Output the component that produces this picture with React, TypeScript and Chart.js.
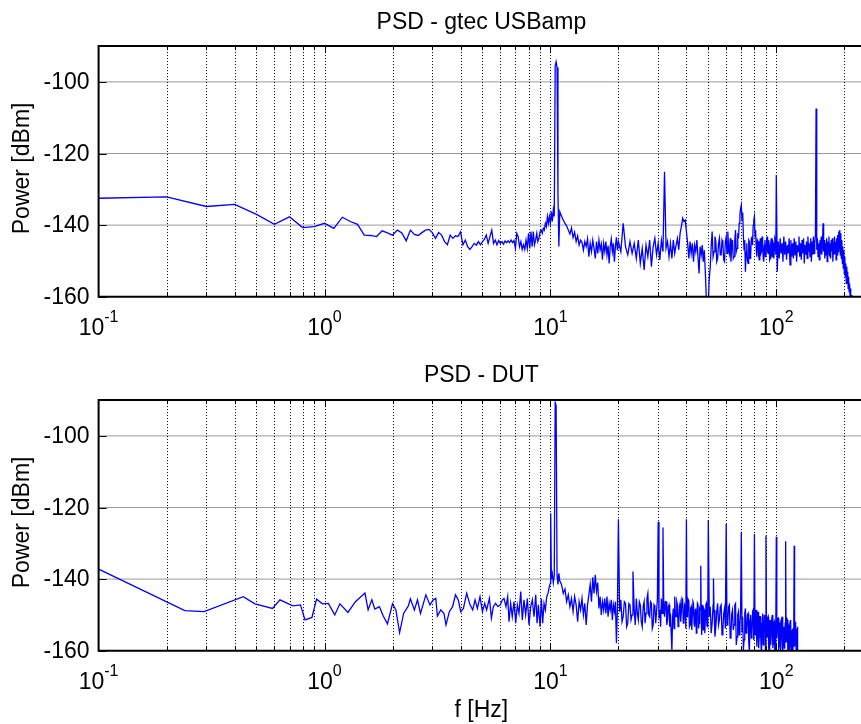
import React, { useEffect, useRef } from 'react';
import { Chart, registerables } from 'chart.js';

Chart.register(...registerables);

type Pt = [number, number]; // [frequency Hz, power dBm]

// ---------- gtec USBamp (top) ----------
const gtecLow: Pt[] = [
  [0.1, -132.5], [0.2, -132.1], [0.3, -134.8], [0.4, -134.2], [0.5, -137.0],
  [0.6, -139.8], [0.7, -137.7], [0.8, -140.7], [0.9, -140.4], [1.0, -139.5],
];

const gtecMid: Pt[] = [
  [1.1, -140.9], [1.2, -137.8], [1.3, -139.0], [1.4, -139.8], [1.5, -142.8], [1.6, -142.9], [1.7, -143.2], [1.8, -141.6], [1.9, -142.2], [2.0, -142.8],
  [2.1, -141.4], [2.2, -142.2], [2.3, -144.4], [2.4, -141.4], [2.5, -142.6], [2.6, -142.9], [2.7, -142.1], [2.8, -141.4], [2.9, -141.2], [3.0, -142.1],
  [3.1, -143.7], [3.2, -142.1], [3.3, -142.8], [3.4, -144.6], [3.5, -145.5], [3.6, -142.8], [3.7, -143.7], [3.8, -143.0], [3.9, -143.2], [4.0, -141.9],
  [4.1, -145.5], [4.2, -144.2], [4.3, -146.0], [4.4, -146.8], [4.5, -146.0], [4.6, -145.1], [4.7, -145.6], [4.8, -144.6], [4.9, -145.5], [5.0, -144.6],
  [5.1, -144.0], [5.2, -142.8], [5.3, -145.1], [5.4, -143.2], [5.5, -141.4], [5.6, -145.1], [5.7, -144.2], [5.8, -145.5], [5.9, -144.3], [6.0, -145.1],
  [6.1, -144.6], [6.2, -145.3], [6.3, -144.4], [6.4, -144.9], [6.5, -144.4], [6.6, -144.9], [6.7, -144.2], [6.8, -144.9], [6.9, -144.3], [7.0, -146.5],
  [7.1, -142.3], [7.2, -143.2], [7.3, -146.0], [7.4, -144.6], [7.5, -146.8], [7.6, -145.5], [7.7, -146.8], [7.8, -144.2], [7.9, -146.5], [8.0, -142.3],
  [8.1, -146.5], [8.2, -141.8], [8.3, -146.0], [8.4, -141.8], [8.5, -145.5], [8.6, -144.2], [8.7, -142.3], [8.8, -144.6], [8.9, -143.7], [9.0, -141.8],
  [9.1, -141.4], [9.2, -142.3], [9.3, -140.9], [9.4, -141.4], [9.5, -139.5], [9.6, -140.4], [9.7, -137.6], [9.8, -139.5], [9.9, -137.6], [10.0, -139.5],
  [10.1, -136.2], [10.2, -139.0], [10.3, -135.8], [10.4, -137.6], [10.5, -95.5], [10.6, -94.4], [10.7, -96.0], [10.8, -131.0], [10.9, -146.0], [11.0, -136.2],
];

const gtecBand1: Pt[] = [
  [11.2, -137.5], [11.4, -138.6], [11.6, -139.5], [11.8, -140.2], [12.0, -141.4], [12.2, -142.5], [12.4, -140.8], [12.6, -143.5], [12.8, -142.0], [13.0, -144.6],
  [13.2, -143.0], [13.4, -145.6], [13.6, -144.2], [13.8, -144.8], [14.0, -147.0], [14.2, -144.6], [14.4, -146.0], [14.6, -143.8], [14.8, -148.8], [15.0, -145.1],
  [15.2, -147.4], [15.4, -144.2], [15.6, -146.5], [15.8, -149.3], [16.0, -144.6], [16.2, -147.9], [16.4, -144.2], [16.6, -146.9], [16.8, -145.3], [17.0, -149.7],
  [17.2, -145.1], [17.4, -147.4], [17.6, -144.6], [17.8, -148.3], [18.0, -145.8], [18.2, -150.7], [18.4, -146.0], [18.6, -143.9], [18.8, -147.4], [19.0, -145.1],
  [19.2, -150.2], [19.4, -146.0], [19.6, -143.4], [19.8, -147.0], [20.0, -144.6],
];

const gtecBand2: Pt[] = [
  [20.5, -147.4], [21.0, -139.5], [21.5, -146.0], [22.0, -148.3], [22.5, -144.6], [23.0, -147.9], [23.5, -145.1], [24.0, -149.3], [24.5, -144.2], [25.0, -150.7],
  [25.5, -146.5], [26.0, -152.5], [26.5, -145.6], [27.0, -148.8], [27.5, -144.2], [28.0, -151.6], [28.5, -146.0], [29.0, -143.7], [29.5, -148.3], [30.0, -145.1],
  [30.5, -149.7], [31.0, -144.2], [31.5, -147.4], [32.0, -125.1], [32.5, -146.5], [33.0, -144.6], [33.5, -148.8], [34.0, -145.1], [34.5, -149.3], [35.0, -144.2],
  [35.5, -147.9], [36.0, -145.6], [36.5, -143.7], [37.0, -146.9], [37.5, -142.3], [38.0, -140.4], [38.5, -138.1], [39.0, -139.0], [39.5, -138.6], [40.0, -141.8],
  [40.5, -145.1], [41.0, -149.3], [41.5, -144.6], [42.0, -147.9], [42.5, -145.1], [43.0, -150.2], [43.5, -145.6], [44.0, -147.4], [44.5, -144.2], [45.0, -148.8],
  [45.5, -153.5], [46.0, -146.0], [46.5, -148.3], [47.0, -145.6], [47.5, -150.2], [48.0, -147.0], [48.5, -153.0], [49.0, -160.5], [49.5, -163.0], [50.0, -162.0],
];

const gtecBand3: Pt[] = [
  [50.5, -155.0], [51, -151.6], [51.5, -146.0], [52, -141.8], [52.5, -148.8], [53, -147.4], [53.5, -143.2], [54, -144.6], [54.5, -150.2], [55, -149.3],
  [55.5, -145.1], [56, -143.7], [56.5, -148.3], [57, -148.3], [57.5, -144.2], [58, -145.1], [58.5, -149.7], [59, -150.2], [59.5, -144.6], [60, -143.2],
  [60.5, -147.9], [61, -141.8], [61.5, -146.5], [62, -147.9], [62.5, -143.7], [63, -150.2], [63.5, -145.6], [64, -144.2], [64.5, -149.3], [65, -148.8],
  [65.5, -144.2], [66, -141.4], [66.5, -147.4], [67, -146.5], [67.5, -142.3], [68, -143.7], [68.5, -139.5], [69, -137.2], [69.5, -135.3], [70, -134.4],
  [70.5, -138.6], [71, -136.5], [71.5, -143.2], [72, -146.9], [72.5, -144.2], [73, -153.0], [73.5, -147.4], [74, -145.1], [74.5, -149.7], [75, -150.7],
  [75.5, -144.2], [76, -144.6], [76.5, -149.3], [77, -148.3], [77.5, -143.7], [78, -143.2], [78.5, -145.6], [79, -140.0], [79.5, -138.6], [80, -137.6],
  [80.5, -143.2], [81, -141.4], [81.5, -146.5], [82, -148.8], [82.5, -144.2], [83, -144.6], [83.5, -148.3], [84, -149.7], [84.5, -145.1], [85, -143.7],
  [85.5, -147.9], [86, -147.4], [86.5, -143.2], [87, -145.1], [87.5, -149.3], [88, -150.2], [88.5, -145.6], [89, -144.2], [89.5, -148.8], [90, -148.3],
  [90.5, -144.6], [91, -143.2], [91.5, -147.4], [92, -147.9], [92.5, -144.2], [93, -145.6], [93.5, -149.7], [94, -149.3], [94.5, -145.1], [95, -143.7],
  [95.5, -148.3], [96, -148.8], [96.5, -144.6], [97, -145.1], [97.5, -149.3], [98, -146.9], [98.5, -143.7], [99, -144.2], [99.5, -148.3], [100, -126.0],
];

const gtecHigh: Pt[] = [
  [101, -153.0], [102, -144.6], [103, -149.3], [104, -143.7], [105, -147.9], [106, -145.1], [107, -150.2], [108, -143.2], [109, -148.3], [110, -144.6],
  [111, -149.7], [112, -145.6], [113, -147.9], [114, -143.7], [115, -151.1], [116, -144.2], [117, -148.8], [118, -145.1], [119, -149.3], [120, -143.7],
  [121, -148.3], [122, -144.6], [123, -150.2], [124, -145.6], [125, -147.4], [126, -143.2], [127, -148.8], [128, -145.1], [129, -149.7], [130, -144.2],
  [131, -147.9], [132, -143.7], [133, -150.7], [134, -145.6], [135, -148.3], [136, -144.6], [137, -149.3], [138, -143.2], [139, -147.4], [140, -145.1],
  [141, -148.8], [142, -143.7], [143, -150.2], [144, -144.6], [145, -148.3], [146, -143.2], [147, -147.9], [148, -145.1], [149, -142.8], [150, -107.4],
  [151, -146.9], [152, -143.7], [153, -148.8], [154, -145.1], [155, -149.7], [156, -144.2], [157, -147.9], [158, -143.2], [159, -148.3], [160, -145.6],
  [161, -139.5], [162, -147.4], [163, -144.2], [164, -149.3], [165, -145.1], [166, -148.3], [167, -143.7], [168, -150.2], [169, -144.6], [170, -147.9],
  [171, -143.2], [172, -148.8], [173, -145.1], [174, -149.3], [175, -144.2], [176, -147.4], [177, -143.7], [178, -150.2], [179, -145.1], [180, -148.3],
  [181, -143.2], [182, -147.9], [183, -144.6], [184, -149.7], [185, -143.7], [186, -148.3], [187, -142.8], [188, -147.4], [189, -141.8], [190, -146.5],
  [191, -141.4], [192, -148.3], [193, -142.3], [194, -149.3], [195, -144.2], [196, -150.7], [197, -146.0], [198, -152.1], [199, -147.0], [200, -153.5],
  [201, -148.8], [202, -154.4], [203, -150.7], [204, -156.3], [205, -151.6], [206, -155.4], [207, -153.0], [208, -157.7], [209, -154.4], [210, -158.6],
  [211, -156.3], [212, -159.5], [213, -157.7], [214, -161.0], [215, -159.5], [216, -163.0],
];

// ---------- DUT (bottom) ----------
const dutLow: Pt[] = [
  [0.1, -137.2], [0.241, -148.8], [0.293, -149.1], [0.437, -144.9], [0.492, -146.9], [0.589, -148.2], [0.635, -145.8], [0.724, -147.5],
  [0.783, -147.2], [0.82, -151.4], [0.88, -150.7], [0.922, -145.6], [0.98, -146.9], [1.04, -146.8], [1.11, -150.0], [1.17, -146.9],
  [1.27, -149.3], [1.37, -146.3], [1.51, -143.9], [1.56, -148.6], [1.62, -145.8], [1.67, -148.4], [1.75, -147.7], [1.82, -150.3],
  [1.9, -152.5], [2.0, -146.9], [2.07, -148.6], [2.15, -155.0], [2.24, -149.6], [2.35, -147.5], [2.4, -145.5], [2.5, -148.6],
  [2.58, -145.8], [2.66, -149.6],
];

const dutMid: Pt[] = [
  [2.81, -144.4], [2.93, -147.2], [3.03, -145.8], [3.11, -145.4], [3.16, -150.3], [3.27, -148.6], [3.38, -149.6], [3.45, -152.8],
  [3.57, -149.1], [3.69, -147.7], [3.8, -144.4], [3.91, -145.8], [4.01, -149.1], [4.12, -148.2], [4.26, -144.0], [4.41, -147.2],
  [4.53, -148.6], [4.64, -145.8], [4.75, -148.2], [4.88, -144.9], [5.0, -149.1], [5.12, -146.8], [5.22, -148.6], [5.37, -145.4],
  [5.48, -150.9], [5.59, -147.7], [5.72, -146.8], [5.86, -147.7], [6.0, -147.2], [6.13, -145.8], [6.23, -145.4], [6.36, -147.7],
  [6.47, -144.9], [6.56, -151.9], [6.67, -146.8], [6.78, -150.5], [6.9, -146.3], [7.02, -152.3], [7.14, -147.2], [7.26, -149.6],
  [7.39, -143.5], [7.51, -151.4], [7.64, -145.8], [7.77, -150.0], [7.91, -145.4], [8.04, -152.8], [8.18, -147.7], [8.32, -145.8],
  [8.46, -150.5], [8.61, -144.4], [8.73, -152.3], [8.84, -147.2], [9.0, -153.3], [9.12, -145.4], [9.24, -152.3], [9.37, -146.8],
  [9.5, -148.6], [9.63, -144.9], [9.76, -144.0], [9.89, -142.1], [9.99, -141.2],
  [10.03, -121.6], [10.1, -140.0], [10.2, -138.5], [10.3, -141.0], [10.4, -139.0], [10.5, -90.7], [10.6, -91.5], [10.7, -139.0],
  [10.8, -141.5], [10.9, -138.4], [11.0, -140.5],
];

const dutBand1: Pt[] = [
  [11.2, -141.5], [11.4, -144.0], [11.6, -142.8], [11.8, -146.3], [12.0, -144.4], [12.2, -147.7], [12.4, -145.4], [12.6, -149.1], [12.8, -144.9], [13.0, -147.2],
  [13.2, -151.9], [13.4, -146.3], [13.6, -148.6], [13.8, -145.4], [14.0, -150.0], [14.2, -146.8], [14.4, -152.8], [14.6, -147.2], [14.8, -144.4], [15.0, -141.5],
  [15.2, -146.3], [15.4, -139.5], [15.6, -144.0], [15.8, -138.8], [16.0, -143.5], [16.2, -141.0], [16.4, -148.2], [16.6, -144.9], [16.8, -150.0], [17.0, -146.3],
  [17.2, -148.6], [17.4, -145.4], [17.6, -149.6], [17.8, -144.9], [18.0, -150.5], [18.2, -146.8], [18.4, -148.6], [18.6, -145.8], [18.8, -151.4], [19.0, -147.2],
  [19.2, -149.1], [19.4, -146.3], [19.6, -157.9], [19.8, -148.2], [20.0, -123.3],
];

const dutBand2: Pt[] = [
  [20.25, -149.1], [20.5, -145.8], [20.75, -151.9], [21.0, -150.5], [21.25, -146.3], [21.5, -146.8], [21.75, -153.3], [22.0, -152.3], [22.25, -146.8], [22.5, -147.2],
  [22.75, -151.4], [23.0, -150.0], [23.2, -137.9], [23.5, -148.6], [23.75, -152.8], [24.0, -145.4], [24.25, -149.6], [24.5, -151.4], [24.75, -146.3], [25.0, -147.2],
  [25.25, -151.9], [25.5, -153.3], [25.75, -147.7], [26.0, -146.3], [26.25, -152.3], [26.5, -149.6], [26.75, -145.4], [27.0, -144.0], [27.25, -150.0], [27.5, -150.5],
  [27.75, -146.3], [28.0, -146.8], [28.25, -153.8], [28.5, -152.8], [28.75, -147.2], [29.0, -147.7], [29.25, -152.3], [29.5, -149.1], [29.75, -145.8], [30.0, -124.0],
  [30.25, -150.9], [30.5, -148.6], [30.75, -153.3], [31.0, -145.4], [31.25, -149.6], [31.5, -125.6], [31.75, -147.2], [32.0, -150.5], [32.25, -146.3], [32.5, -146.3],
  [32.75, -152.8], [33.0, -151.4], [33.25, -147.7], [33.5, -147.2], [33.75, -153.3], [34.0, -149.6], [34.25, -155.1], [34.5, -160.0], [34.75, -150.5], [35.0, -148.2],
  [35.25, -153.8], [35.5, -144.9], [35.75, -149.6], [36.0, -150.5], [36.25, -146.3], [36.5, -147.2], [36.75, -153.3], [37.0, -152.3], [37.25, -147.7], [37.5, -146.8],
  [37.75, -151.9], [38.0, -149.1], [38.25, -145.4], [38.5, -145.8], [38.75, -152.3], [39.0, -151.9], [39.25, -147.2], [39.5, -147.7], [39.75, -153.8], [40.0, -123.3],
  [40.25, -150.5], [40.5, -149.6], [40.75, -145.8], [41.0, -146.3], [41.25, -153.3], [41.5, -152.8], [41.75, -148.2], [42.0, -147.7], [42.25, -154.2], [42.5, -150.0],
  [42.75, -146.3], [43.0, -146.8], [43.25, -152.3], [43.5, -153.3], [43.75, -148.6], [44.0, -148.2], [44.25, -155.1], [44.5, -150.9], [44.75, -146.8], [45.0, -147.2],
  [45.25, -153.8], [45.5, -152.3], [45.75, -148.2], [46.0, -148.6], [46.3, -136.3], [46.5, -150.5], [46.75, -155.6], [47.0, -147.2], [47.25, -151.4], [47.5, -154.2],
  [47.75, -148.2], [48.0, -148.6], [48.25, -155.1], [48.5, -151.4], [48.75, -147.2], [49.0, -146.8], [49.25, -152.8], [49.5, -153.3], [49.75, -148.6], [50.0, -123.5],
];

const dutHigh: Pt[] = [
  [50.5, -150.5], [51, -147.7], [51.5, -155.1], [52, -152.3], [52.5, -147.2], [52.7, -139.8], [53, -148.6], [53.5, -156.1], [54, -153.3], [54.5, -149.1],
  [55, -146.8], [55.5, -152.8], [56, -151.4], [56.5, -147.7], [57, -147.2], [57.5, -155.6], [58, -154.2], [58.5, -149.6], [59, -148.2], [59.5, -153.8],
  [60, -124.6], [60.5, -152.8], [61, -151.9], [61.5, -147.7], [62, -147.2], [62.5, -156.5], [63, -155.1], [63.5, -149.6], [64, -148.6], [64.5, -154.2],
  [65, -152.8], [65.5, -147.2], [66, -146.8], [66.5, -158.4], [67, -156.1], [67.5, -150.0], [68, -149.1], [68.5, -155.6], [69, -153.3], [69.5, -148.6],
  [70, -126.8], [70.5, -154.7], [71, -150.5], [71.5, -159.8], [72, -157.0], [72.5, -149.6], [73, -148.2], [73.5, -155.1], [74, -154.2], [74.5, -150.0],
  [75, -149.6], [75.5, -157.5], [76, -160.5], [76.5, -151.4], [77, -150.0], [77.5, -156.5], [78, -155.1], [78.5, -149.1], [79, -148.6], [79.5, -157.0],
  [80, -127.4], [80.5, -155.6], [81, -152.3], [81.5, -148.6], [82, -158.9], [82.5, -153.3], [83, -149.1], [83.5, -159.3], [84, -156.1], [84.5, -150.5],
  [85, -150.5], [85.5, -157.9], [86, -161.0], [86.5, -152.3], [87, -149.6], [87.5, -158.4], [88, -154.7], [88.5, -150.0], [89, -151.0], [89.5, -159.8],
  [90, -127.9], [90.5, -152.8], [91, -156.1], [91.5, -150.9], [92, -150.5], [92.5, -158.9], [93, -160.5], [93.5, -152.3], [94, -151.4], [94.5, -158.4],
  [95, -155.6], [95.5, -151.0], [96, -150.0], [96.5, -159.3], [97, -157.9], [97.5, -152.3], [98, -151.9], [98.5, -160.5], [99, -161.0], [99.5, -153.3],
  [100, -128.2], [100.5, -156.5], [101, -154.2], [101.5, -151.0], [102, -150.9], [102.5, -159.8], [103, -158.4], [103.5, -152.8], [104, -152.3], [104.5, -160.5],
  [105, -156.5], [105.5, -151.4], [106, -150.5], [106.5, -158.9], [107, -161.0], [107.5, -153.8], [108, -153.3], [108.5, -159.3], [109, -157.0], [109.5, -152.3],
  [110, -129.4], [110.5, -157.5], [111, -155.1], [111.5, -151.0], [112, -151.4], [112.5, -161.0], [113, -160.0], [113.5, -153.3], [114, -152.8], [114.5, -159.8],
  [115, -157.5], [115.5, -152.3], [116, -151.4], [116.5, -160.5], [117, -161.0], [117.5, -154.2], [118, -153.8], [118.5, -160.0], [119, -158.4], [119.5, -152.8],
  [120, -130.7], [120.5, -158.9], [121, -154.7], [121.5, -151.9], [122, -152.3], [122.5, -161.0], [123, -161.0], [123.5, -153.8], [124, -153.3], [124.5, -161.0],
];

// ---------- axes ----------
const X_MIN = 0.1;
const X_MAX = 250;
const Y_MIN = -160;
const Y_MAX = -90;
const yTickValues = [-160, -140, -120, -100];
const yGridValues = [-140, -120, -100];
const xGridValues = [
  0.2, 0.3, 0.4, 0.5, 0.6, 0.7, 0.8, 0.9, 1,
  2, 3, 4, 5, 6, 7, 8, 9, 10,
  20, 30, 40, 50, 60, 70, 80, 90, 100, 200,
];
const xDecadeValues = [0.1, 1, 10, 100];
const xDecadeExponents = ['-1', '0', '1', '2'];

const FONT = '"Liberation Sans", Arial, Helvetica, sans-serif';

interface PlotProps {
  title: string;
  points: Pt[];
  top: number;
  height: number;
  padTop: number;
  padBottom: number;
  titleGap: number;
  xLabel?: string;
}

const CANVAS_W = 875;

function Plot({ title, points, top, height, padTop, padBottom, titleGap, xLabel }: PlotProps) {
  const ref = useRef<HTMLCanvasElement | null>(null);

  useEffect(() => {
    const canvas = ref.current;
    if (!canvas) return;

    const axesPlugin = {
      id: 'matlabAxes',
      beforeDatasetsDraw(chart: any) {
        const { ctx, chartArea: a, scales } = chart;
        const xs = scales.x;
        const ys = scales.y;
        ctx.save();
        ctx.lineWidth = 1;
        ctx.strokeStyle = '#999999';
        for (const v of yGridValues) {
          const py = ys.getPixelForValue(v);
          ctx.beginPath();
          ctx.moveTo(a.left, py);
          ctx.lineTo(a.right, py);
          ctx.stroke();
        }
        ctx.strokeStyle = '#000000';
        ctx.setLineDash([1, 2]);
        for (const v of xGridValues) {
          const px = Math.round(xs.getPixelForValue(v)) + 0.5;
          ctx.beginPath();
          ctx.moveTo(px, a.top);
          ctx.lineTo(px, a.bottom);
          ctx.stroke();
        }
        ctx.restore();
      },
      afterDatasetsDraw(chart: any) {
        const { ctx, chartArea: a, scales } = chart;
        const xs = scales.x;
        const ys = scales.y;
        ctx.save();
        // box
        ctx.strokeStyle = '#000000';
        ctx.lineWidth = 2;
        ctx.beginPath();
        ctx.moveTo(a.right + 2, a.top);
        ctx.lineTo(a.left, a.top);
        ctx.lineTo(a.left, a.bottom);
        ctx.lineTo(a.right + 2, a.bottom);
        ctx.stroke();
        // ticks
        ctx.lineWidth = 1;
        for (const v of yTickValues) {
          const py = Math.round(ys.getPixelForValue(v)) + 0.5;
          ctx.beginPath();
          ctx.moveTo(a.left, py);
          ctx.lineTo(a.left + 8, py);
          ctx.stroke();
        }
        for (const v of xGridValues) {
          const px = Math.round(xs.getPixelForValue(v)) + 0.5;
          const len = xDecadeValues.includes(v) ? 7 : 4;
          ctx.beginPath();
          ctx.moveTo(px, a.bottom);
          ctx.lineTo(px, a.bottom - len);
          ctx.moveTo(px, a.top);
          ctx.lineTo(px, a.top + len);
          ctx.stroke();
        }
        // y tick labels
        ctx.fillStyle = '#000000';
        ctx.font = `23px ${FONT}`;
        ctx.textAlign = 'right';
        ctx.textBaseline = 'middle';
        for (const v of yTickValues) {
          ctx.fillText(String(v), a.left - 9, ys.getPixelForValue(v) + 1);
        }
        // x tick labels 10^n
        ctx.textBaseline = 'alphabetic';
        ctx.textAlign = 'left';
        const base = a.bottom + 37.8;
        xDecadeValues.forEach((v, i) => {
          const px = xs.getPixelForValue(v);
          ctx.font = `23px ${FONT}`;
          const wMain = ctx.measureText('10').width;
          ctx.font = `16px ${FONT}`;
          const wExp = ctx.measureText(xDecadeExponents[i]).width;
          const start = px - (wMain + wExp) / 2;
          ctx.font = `23px ${FONT}`;
          ctx.fillText('10', start, base);
          ctx.font = `16px ${FONT}`;
          ctx.fillText(xDecadeExponents[i], start + wMain, base - 13);
        });
        // title
        ctx.font = `23px ${FONT}`;
        ctx.textAlign = 'center';
        const cx = (a.left + a.right) / 2;
        ctx.fillText(title, cx - 1, a.top - titleGap);
        // x label
        if (xLabel) {
          ctx.fillText(xLabel, cx - 1, a.bottom + 66.3);
        }
        // y label
        ctx.save();
        ctx.translate(28.5, (a.top + a.bottom) / 2 - 3);
        ctx.rotate(-Math.PI / 2);
        ctx.fillText('Power [dBm]', 0, 0);
        ctx.restore();
        ctx.restore();
      },
    };

    const chart = new Chart(canvas, {
      type: 'line',
      data: {
        datasets: [
          {
            data: points.map(([f, p]) => ({ x: f, y: p })),
            borderColor: '#0000ff',
            borderWidth: 1.3,
            pointRadius: 0,
            tension: 0,
            fill: false,
          },
        ],
      },
      options: {
        responsive: false,
        animation: false,
        events: [],
        layout: {
          padding: { left: 98.6, right: CANVAS_W - 866.2, top: padTop, bottom: padBottom },
        },
        scales: {
          x: { type: 'logarithmic', min: X_MIN, max: X_MAX, display: false },
          y: { type: 'linear', min: Y_MIN, max: Y_MAX, display: false },
        },
        plugins: {
          legend: { display: false },
          tooltip: { enabled: false },
          title: { display: false },
        },
      },
      plugins: [axesPlugin],
    } as any);

    return () => chart.destroy();
  }, [title, points, padTop, padBottom, titleGap, xLabel]);

  return (
    <canvas
      ref={ref}
      width={CANVAS_W}
      height={height}
      style={{ position: 'absolute', left: 0, top, width: CANVAS_W, height, display: 'block' }}
    />
  );
}

const gtecPoints: Pt[] = [...gtecLow, ...gtecMid, ...gtecBand1, ...gtecBand2, ...gtecBand3, ...gtecHigh];
const dutPoints: Pt[] = [...dutLow, ...dutMid, ...dutBand1, ...dutBand2, ...dutHigh];

export default function App() {
  return (
    <div
      style={{
        position: 'absolute',
        left: 0,
        top: 0,
        width: 861,
        height: 724,
        overflow: 'hidden',
        background: '#ffffff',
      }}
    >
      <Plot
        title="PSD - gtec USBamp"
        points={gtecPoints}
        top={0}
        height={362}
        padTop={46.1}
        padBottom={362 - 296.7}
        titleGap={16.8}
      />
      <Plot
        title="PSD - DUT"
        points={dutPoints}
        top={362}
        height={362}
        padTop={400.1 - 362}
        padBottom={362 - (650.7 - 362)}
        titleGap={18.4}
        xLabel="f [Hz]"
      />
    </div>
  );
}
